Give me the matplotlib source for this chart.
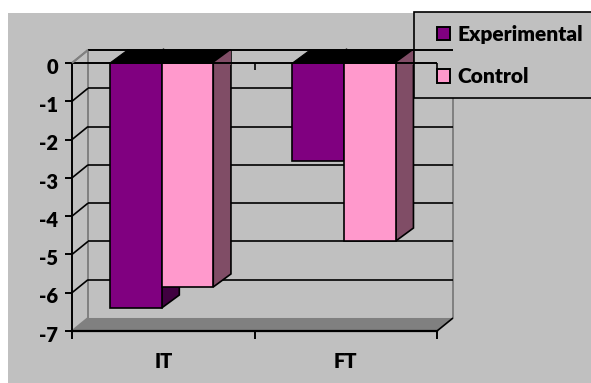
import matplotlib
matplotlib.use("Agg")
import matplotlib.pyplot as plt
from matplotlib.patches import Patch, Polygon, Rectangle
from matplotlib.transforms import ScaledTranslation

categories = ["IT", "FT"]
experimental = [-6.4, -2.55]
control = [-5.85, -4.65]
y_ticks = [0, -1, -2, -3, -4, -5, -6, -7]

W, H = 591, 383
GREY = "#C0C0C0"
DARK_GREY = "#808080"
PURPLE = "#800080"
PINK = "#FF99CC"
PURPLE_SIDE = "#400040"
PINK_SIDE = "#804D66"

# 3D look: how far the back wall is shifted from the front plane
DEPTH_X = 0.0877
DEPTH_Y = 0.34
BAR_DEPTH_X = 0.097
BAR_W = 0.283
GROUP_GAP = 0.208

plt.rcParams["font.family"] = ["Lato", "DejaVu Sans"]
plt.rcParams["font.weight"] = "bold"
plt.rcParams["axes.unicode_minus"] = False

fig = plt.figure(figsize=(W / 100, H / 100), dpi=100, facecolor="white")
fig.add_artist(Rectangle((8 / W, 0), 1 - 8 / W, 1 - 13 / H, transform=fig.transFigure,
                         facecolor=GREY, edgecolor="none", zorder=-5))

axes_rect = [72 / W, 1 - 331 / H, 365 / W, 268 / H]
ax = fig.add_axes(axes_rect)
ax.patch.set_alpha(0)
ax.set_zorder(5)
ax.set_xlim(0, 2)
ax.set_ylim(-7, 0)

ax.spines["top"].set_visible(False)
ax.spines["right"].set_visible(False)
ax.spines["left"].set_linewidth(1.4)
ax.spines["bottom"].set_linewidth(1.6)
ax.spines["left"].set_zorder(8)
ax.spines["bottom"].set_zorder(8)

ax.set_yticks(y_ticks)
ax.set_yticklabels([str(v) for v in y_ticks], fontsize=14.5, fontweight="heavy", va="center_baseline")
ax.tick_params(axis="y", length=5, width=1.4, pad=5)
# value labels sit a little below their ticks
nudge = ScaledTranslation(0, -2 / 72, fig.dpi_scale_trans)
for label in ax.get_yticklabels():
    label.set_transform(label.get_transform() + nudge)
ax.set_xticks([0, 1, 2])
ax.set_xticklabels([])
ax.tick_params(axis="x", which="major", length=5.5, width=1.4)
ax.set_xticks([0.5, 1.5], minor=True)
ax.set_xticklabels(categories, minor=True, fontsize=14.5, fontweight="heavy")
ax.tick_params(axis="x", which="minor", length=0, pad=15)

line_kw = dict(clip_on=False, solid_capstyle="butt")

# floor and walls
ax.add_patch(Polygon([(0, -7), (DEPTH_X, -7 + DEPTH_Y), (2 + DEPTH_X, -7 + DEPTH_Y), (2, -7)],
                     facecolor=DARK_GREY, edgecolor="none", clip_on=False, zorder=1))
ax.plot([DEPTH_X, DEPTH_X], [-7 + DEPTH_Y, DEPTH_Y], color=DARK_GREY, lw=1.4, zorder=1, **line_kw)
ax.plot([2 + DEPTH_X, 2 + DEPTH_X], [-7 + DEPTH_Y, DEPTH_Y], color=DARK_GREY, lw=1.4, zorder=1, **line_kw)
ax.plot([0, DEPTH_X], [0, DEPTH_Y], color=DARK_GREY, lw=1.4, zorder=1, **line_kw)
ax.plot([0, DEPTH_X], [-7, -7 + DEPTH_Y], color=DARK_GREY, lw=1.4, zorder=1, **line_kw)
ax.plot([2, 2 + DEPTH_X], [-7, -7 + DEPTH_Y], color="black", lw=1.2, zorder=2, **line_kw)

# gridlines run along the back wall and step down the left wall
for v in y_ticks[1:-1]:
    ax.plot([DEPTH_X, 2 + DEPTH_X], [v + DEPTH_Y, v + DEPTH_Y], color="black", lw=1.2, zorder=2, **line_kw)
    ax.plot([0, DEPTH_X], [v, v + DEPTH_Y], color="black", lw=1.2, zorder=2, **line_kw)

# bars, one group per category
for i in range(len(categories)):
    x0 = i + GROUP_GAP
    x1 = x0 + BAR_W
    x2 = x1 + BAR_W
    e = experimental[i]
    c = control[i]
    edge = dict(edgecolor="black", linewidth=1.2, clip_on=False)

    ax.add_patch(Polygon([(x1, 0), (x1 + BAR_DEPTH_X, DEPTH_Y), (x1 + BAR_DEPTH_X, e + DEPTH_Y), (x1, e)],
                         facecolor=PURPLE_SIDE, zorder=3, **edge))
    ax.bar(x0, e, BAR_W, align="edge", color=PURPLE, zorder=4, **edge)
    ax.add_patch(Polygon([(x2, 0), (x2 + BAR_DEPTH_X, DEPTH_Y), (x2 + BAR_DEPTH_X, c + DEPTH_Y), (x2, c)],
                         facecolor=PINK_SIDE, zorder=4, **edge))
    ax.bar(x1, c, BAR_W, align="edge", color=PINK, zorder=5, **edge)
    ax.add_patch(Polygon([(x0, 0), (x0 + BAR_DEPTH_X, DEPTH_Y), (x2 + BAR_DEPTH_X, DEPTH_Y), (x2, 0)],
                         facecolor="black", edgecolor="black", linewidth=0.8, clip_on=False, zorder=3.5))
    ax.add_patch(Polygon([(x2, 0), (x2 + BAR_DEPTH_X, DEPTH_Y), (x2 + BAR_DEPTH_X, -0.05)],
                         facecolor=PINK_SIDE, edgecolor="none", clip_on=False, zorder=4.5))

# legend box sits over the plot, its right side runs off the edge
fig.add_artist(Rectangle((414 / W, 1 - 98 / H), 200 / W, 86 / H, transform=fig.transFigure,
                         facecolor=GREY, edgecolor="black", linewidth=1.2, clip_on=False, zorder=6))
handles = [Patch(facecolor=PURPLE, edgecolor="black", linewidth=1.4),
           Patch(facecolor=PINK, edgecolor="black", linewidth=1.4)]
legend = fig.legend(handles, ["Experimental", "Control"], loc="upper left",
                    bbox_to_anchor=(437 / W, 1 - 25 / H), frameon=False, borderpad=0, borderaxespad=0,
                    handlelength=0.62, handleheight=0.62, handletextpad=0.38, labelspacing=1.12,
                    prop={"weight": "heavy", "size": 15})
legend.set_zorder(7)

# the back and front top edges stay on top of the legend box
top = fig.add_axes(axes_rect)
top.set_zorder(8)
top.axis("off")
top.set_xlim(0, 2)
top.set_ylim(-7, 0)
top.plot([DEPTH_X, 2 + DEPTH_X], [DEPTH_Y, DEPTH_Y], color="black", lw=1.4, **line_kw)
top.plot([0, 2], [0, 0], color="black", lw=1.4, **line_kw)
for x in [1, 2]:
    top.plot([x, x], [0, -0.18], color="black", lw=1.2, **line_kw)
for x in [0.5, 1.5]:
    top.plot([x, x], [DEPTH_Y, DEPTH_Y + 0.06], color="black", lw=1, **line_kw)
top.plot([0, DEPTH_X], [0, DEPTH_Y], color=DARK_GREY, lw=1.4, **line_kw)

fig.savefig("out.png", dpi=100)
